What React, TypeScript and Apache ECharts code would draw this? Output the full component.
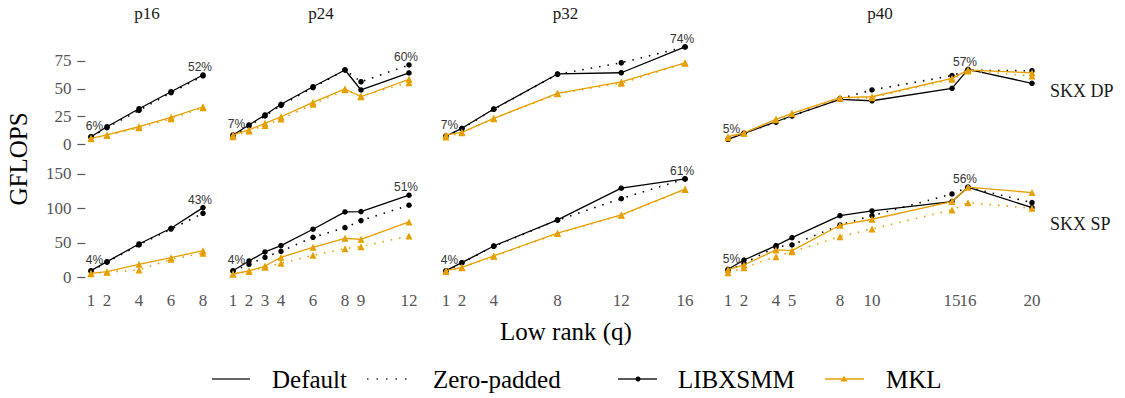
import React, { useEffect, useRef } from "react";
import * as echarts from "echarts";

// ---------------- data ----------------
const panelTitles = ["p16", "p24", "p32", "p40"];
const rowLabels = ["SKX DP", "SKX SP"];

const qP16 = [1, 2, 4, 6, 8];
const qP24 = [1, 2, 3, 4, 6, 8, 9, 12];
const qP32 = [1, 2, 4, 8, 12, 16];
const qP40 = [1, 2, 4, 5, 8, 10, 15, 16, 20];

// DP (GFLOPS)
const libDefDP16 = [6.8, 15.8, 32, 47.3, 62.4];
const libZpDP16 = [6.5, 15, 30.5, 46.5, 61.5];
const mklDefDP16 = [5.4, 8.4, 15.8, 24.3, 33.8];
const mklZpDP16 = [5, 8, 15, 23, 33];

const libDefDP24 = [8.4, 17.4, 26.4, 36, 51.8, 66.9, 48.9, 64.2];
const libZpDP24 = [7.5, 16.5, 25.5, 35, 51, 66.9, 56.3, 71.4];
const mklDefDP24 = [8.4, 12.9, 18.9, 24.8, 37.8, 49.8, 42.8, 58.5];
const mklZpDP24 = [6.8, 12, 17, 22.8, 36, 49, 43.5, 55.5];

const libDefDP32 = [7.5, 14.4, 31.8, 63.3, 64.4, 87.6];
const libZpDP32 = [7, 14, 31.5, 63, 73.4, 87.6];
const mklDefDP32 = [8.4, 10.8, 23.4, 45.9, 56.1, 73.4];
const mklZpDP32 = [6.5, 10.5, 23, 45.5, 55, 73];

const libDefDP40 = [4.5, 9.9, 20.3, 25.7, 40.5, 39.2, 50.4, 67.5, 54.9];
const libZpDP40 = [4.5, 10, 20, 25.5, 41, 48.9, 61.8, 66.6, 66.2];
const mklDefDP40 = [6.8, 10.2, 22.5, 27.9, 42, 42.8, 59.4, 66.8, 64.4];
const mklZpDP40 = [6, 10, 22, 27.5, 41.5, 42, 58.5, 66, 61.5];

// SP (GFLOPS)
const libDefSP16 = [9.6, 22.7, 48.4, 71.2, 101.2];
const libZpSP16 = [9, 22, 47, 70, 93];
const mklDefSP16 = [5.8, 8.1, 18.9, 28.5, 38.7];
const mklZpSP16 = [5, 7.5, 10.6, 26.1, 34.9];

const libDefSP24 = [9.6, 23.7, 36.8, 46, 69.8, 94.9, 95.4, 119.2];
const libZpSP24 = [9, 18.9, 29, 37.8, 58.1, 72.1, 82.3, 104.7];
const mklDefSP24 = [4.8, 9.2, 16.4, 29.1, 43.6, 56.7, 55.2, 80.4];
const mklZpSP24 = [4.8, 8.5, 14.5, 20.3, 32, 41.6, 44.5, 60];

const libDefSP32 = [9.6, 21.2, 45.5, 83.3, 129.4, 142.9];
const libZpSP32 = [9, 21, 45, 83, 114.2, 142.9];
const mklDefSP32 = [9.6, 14.5, 31, 64, 90.6, 127.9];
const mklZpSP32 = [8.5, 14, 30.5, 63.5, 90, 127.5];

const libDefSP40 = [11.6, 25.1, 46, 57.6, 89.5, 96.4, 110, 130.8, 101.2];
const libZpSP40 = [10, 20.3, 44, 47, 76, 89.5, 121, 130.8, 108.4];
const mklDefSP40 = [11, 17.9, 39.7, 38.7, 75.6, 84.3, 110, 130.8, 123];
const mklZpSP40 = [6.7, 14, 30, 37.2, 59, 70.2, 97.8, 108.4, 100.3];

// efficiency labels (first point / peak)
const lowDP = ["6%", "7%", "7%", "5%"];
const peakDP = ["52%", "60%", "74%", "57%"];
const lowSP = ["4%", "4%", "4%", "5%"];
const peakSP = ["43%", "51%", "61%", "56%"];

const yTicksDP = [0, 25, 50, 75];
const yTicksSP = [0, 50, 100, 150];

const legendItems = ["Default", "Zero-padded", "LIBXSMM", "MKL"];

// ---------------- layout / style ----------------
const SERIF = "'Liberation Serif', 'Times New Roman', 'DejaVu Serif', serif";
const SANS = "'Liberation Sans', Arial, sans-serif";
const BLACK = "#000000";
const ORANGE = "#E69F00";
const TICK = "#555555";

const colLeft = [85.4, 224.2, 434, 712.8];
const colWidth = [123.2, 193.6, 263, 334.4];
const xMin = [0.65, 0.45, 0.25, 0.05];
const xMax = [8.35, 12.55, 16.75, 20.95];
const rowTop = [42, 172];
const rowHeight = 107;
const yMin = [-4.23, -2.47];
const yMax = [92.08, 152.9];

export default function App() {
  const ref = useRef<HTMLDivElement>(null);

  useEffect(() => {
    if (!ref.current) return;
    const chart = echarts.init(ref.current, null, { renderer: "svg" });

    const qs = [qP16, qP24, qP32, qP40];
    const data = [
      [
        [libZpDP16, libDefDP16, mklZpDP16, mklDefDP16],
        [libZpDP24, libDefDP24, mklZpDP24, mklDefDP24],
        [libZpDP32, libDefDP32, mklZpDP32, mklDefDP32],
        [libZpDP40, libDefDP40, mklZpDP40, mklDefDP40],
      ],
      [
        [libZpSP16, libDefSP16, mklZpSP16, mklDefSP16],
        [libZpSP24, libDefSP24, mklZpSP24, mklDefSP24],
        [libZpSP32, libDefSP32, mklZpSP32, mklDefSP32],
        [libZpSP40, libDefSP40, mklZpSP40, mklDefSP40],
      ],
    ];
    const lows = [lowDP, lowSP];
    const peaks = [peakDP, peakSP];
    const yTicks = [yTicksDP, yTicksSP];

    const grids: any[] = [];
    const xAxes: any[] = [];
    const yAxes: any[] = [];
    const series: any[] = [];

    for (let r = 0; r < 2; r++) {
      for (let c = 0; c < 4; c++) {
        const gi = r * 4 + c;
        grids.push({
          left: colLeft[c],
          width: colWidth[c],
          top: rowTop[r],
          height: rowHeight,
          containLabel: false,
        });
        xAxes.push({
          type: "value",
          gridIndex: gi,
          min: xMin[c],
          max: xMax[c],
          axisLine: { show: false },
          axisTick: { show: false },
          splitLine: { show: false },
          axisLabel: {
            show: r === 1,
            customValues: qs[c],
            fontFamily: SERIF,
            fontSize: 17,
            color: TICK,
            margin: 13,
            hideOverlap: false,
          },
        });
        yAxes.push({
          type: "value",
          gridIndex: gi,
          min: yMin[r],
          max: yMax[r],
          axisLine: { show: false },
          splitLine: { show: false },
          axisTick: {
            show: c === 0,
            customValues: yTicks[r],
            length: 8,
            lineStyle: { color: TICK, width: 1.2 },
          },
          axisLabel: {
            show: c === 0,
            customValues: yTicks[r],
            fontFamily: SERIF,
            fontSize: 17,
            color: TICK,
            margin: 14,
          },
        });

        const sets = data[r][c];
        // find peak point
        let pk = { s: 0, i: 0, v: -Infinity };
        sets.forEach((arr, s) =>
          arr.forEach((v, i) => {
            if (v > pk.v + 0.01) pk = { s, i, v };
          })
        );
        const styles = [
          { color: BLACK, dotted: true, symbol: "circle", size: 5.5 },
          { color: BLACK, dotted: false, symbol: "circle", size: 5.5 },
          { color: ORANGE, dotted: true, symbol: "triangle", size: 7 },
          { color: ORANGE, dotted: false, symbol: "triangle", size: 7 },
        ];
        sets.forEach((arr, s) => {
          const st = styles[s];
          const pts = arr.map((v, i) => {
            const item: any = { value: [qs[c][i], v] };
            if (s === pk.s && i === pk.i) {
              item.label = {
                show: true,
                formatter: peaks[r][c],
                position: "top",
                distance: 0,
                offset: [-3, 1],
                fontFamily: SANS,
                fontSize: 12,
                color: "#333333",
              };
            } else if (s === 1 && i === 0) {
              item.label = {
                show: true,
                formatter: lows[r][c],
                position: "top",
                distance: 2,
                offset: [3.5, 0],
                fontFamily: SANS,
                fontSize: 12,
                color: "#333333",
              };
            }
            return item;
          });
          series.push({
            type: "line",
            name: (s < 2 ? "LIBXSMM" : "MKL") + (st.dotted ? " Zero-padded" : " Default"),
            xAxisIndex: gi,
            yAxisIndex: gi,
            data: pts,
            symbol: st.symbol,
            symbolSize: st.size,
            showSymbol: true,
            lineStyle: {
              color: st.color,
              width: st.dotted ? 1.6 : 1.3,
              type: st.dotted ? [1.5, 7] : "solid",
            },
            itemStyle: { color: st.color },
            z: s + 2,
            silent: true,
          });
        });
      }
    }

    const graphic: any[] = [];
    panelTitles.forEach((t, c) => {
      graphic.push({
        type: "text",
        x: colLeft[c] + colWidth[c] / 2,
        y: 13,
        style: {
          text: t,
          fontFamily: SERIF,
          fontSize: 17,
          fill: "#1a1a1a",
          textAlign: "center",
          textVerticalAlign: "middle",
        },
      });
    });
    rowLabels.forEach((t, r) => {
      graphic.push({
        type: "text",
        x: 1050,
        y: r === 0 ? 90.5 : 224,
        style: {
          text: t,
          fontFamily: SERIF,
          fontSize: 18,
          fill: "#1a1a1a",
          textAlign: "left",
          textVerticalAlign: "middle",
        },
      });
    });
    graphic.push({
      type: "text",
      x: 18,
      y: 159,
      rotation: Math.PI / 2,
      style: {
        text: "GFLOPS",
        fontFamily: SERIF,
        fontSize: 25,
        fill: "#000",
        textAlign: "center",
        textVerticalAlign: "middle",
      },
    });
    graphic.push({
      type: "text",
      x: 566,
      y: 331,
      style: {
        text: "Low rank (q)",
        fontFamily: SERIF,
        fontSize: 25,
        fill: "#000",
        textAlign: "center",
        textVerticalAlign: "middle",
      },
    });

    // legend
    const ly = 379;
    graphic.push({
      type: "line",
      shape: { x1: 212, y1: ly, x2: 250, y2: ly },
      style: { stroke: "#333", lineWidth: 1.5 },
    });
    graphic.push({
      type: "line",
      shape: { x1: 367, y1: ly, x2: 407, y2: ly },
      style: { stroke: "#333", lineWidth: 1.5, lineDash: [1.5, 8] },
    });
    graphic.push({
      type: "line",
      shape: { x1: 618, y1: ly, x2: 657, y2: ly },
      style: { stroke: "#222", lineWidth: 1.5 },
    });
    graphic.push({
      type: "circle",
      shape: { cx: 638, cy: ly, r: 2.5 },
      style: { fill: "#000" },
    });
    graphic.push({
      type: "line",
      shape: { x1: 825, y1: ly, x2: 864, y2: ly },
      style: { stroke: ORANGE, lineWidth: 1.5 },
    });
    graphic.push({
      type: "polygon",
      shape: { points: [[844, ly - 3.5], [847.5, ly + 2.5], [840.5, ly + 2.5]] },
      style: { fill: ORANGE },
    });
    const lx = [272, 433, 678, 886];
    legendItems.forEach((t, i) => {
      graphic.push({
        type: "text",
        x: lx[i],
        y: ly,
        style: {
          text: t,
          fontFamily: SERIF,
          fontSize: 25,
          fill: "#000",
          textAlign: "left",
          textVerticalAlign: "middle",
        },
      });
    });

    chart.setOption({
      animation: false,
      backgroundColor: "#ffffff",
      grid: grids,
      xAxis: xAxes,
      yAxis: yAxes,
      series,
      graphic,
    });

    return () => chart.dispose();
  }, []);

  return (
    <div
      ref={ref}
      style={{ position: "fixed", left: 0, top: 0, width: 1125, height: 398 }}
    />
  );
}
